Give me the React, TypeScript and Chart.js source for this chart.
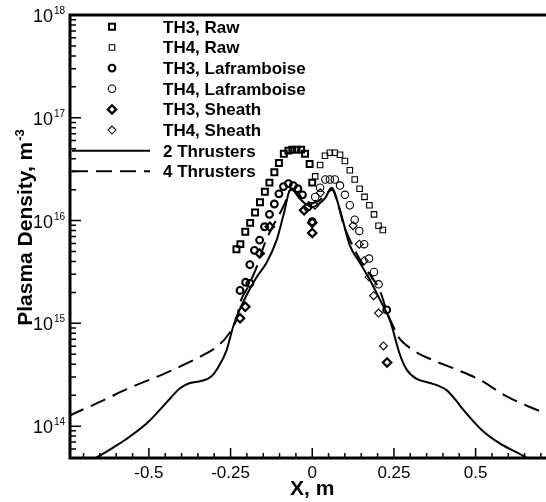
import React, { useEffect, useRef } from 'react';
import { Chart, registerables } from 'chart.js';

Chart.register(...registerables);

const FONT = '"Liberation Sans", Arial, Helvetica, sans-serif';

// ---- axis settings / labels ----
const xTickValues = [-0.5, -0.25, 0, 0.25, 0.5];
const xTickLabels = ['-0.5', '-0.25', '0', '0.25', '0.5'];
const yTickExponents = [14, 15, 16, 17, 18];
const xTitle = 'X, m';
const yTitleMain = 'Plasma Density, m';
const yTitleSup = '-3';

// ---- measured data ----
const th3RawX = [-0.232, -0.220, -0.205, -0.190, -0.175, -0.160, -0.145, -0.131, -0.116, -0.102, -0.087, -0.073, -0.061, -0.048, -0.034, -0.022, -0.008, 0.000];
const th3RawY = [5.25e15, 5.9e15, 7.8e15, 9.5e15, 1.2e16, 1.51e16, 1.91e16, 2.34e16, 2.95e16, 3.63e16, 4.47e16, 4.79e16, 4.9e16, 4.9e16, 4.9e16, 4.47e16, 3.55e16, 2.34e16];

const th4RawX = [0.009, 0.024, 0.039, 0.054, 0.069, 0.085, 0.100, 0.115, 0.130, 0.145, 0.160, 0.175, 0.189, 0.203, 0.216];
const th4RawY = [2.69e16, 3.47e16, 4.27e16, 4.57e16, 4.57e16, 4.37e16, 3.8e16, 3.09e16, 2.51e16, 2.04e16, 1.7e16, 1.41e16, 1.15e16, 8.9e15, 8.1e15];

const th3LafX = [-0.221, -0.204, -0.191, -0.191, -0.177, -0.161, -0.146, -0.131, -0.116, -0.102, -0.088, -0.073, -0.058, -0.044, -0.030, -0.014, 0.000, 0.228];
const th3LafY = [2.09e15, 2.51e15, 2.45e15, 3.72e15, 5.13e15, 6.46e15, 8.71e15, 1.15e16, 1.45e16, 1.82e16, 2.14e16, 2.29e16, 2.19e16, 2.04e16, 1.78e16, 1.35e16, 9.77e15, 1.35e15];

const th4LafX = [0.009, 0.024, 0.040, 0.054, 0.069, 0.085, 0.100, 0.115, 0.130, 0.144, 0.159, 0.174, 0.189, 0.203];
const th4LafY = [1.7e16, 2.09e16, 2.51e16, 2.51e16, 2.51e16, 2.19e16, 1.78e16, 1.41e16, 1.02e16, 7.94e15, 5.89e15, 4.27e15, 3.16e15, 2.4e15];

const th3SheathX = [-0.221, -0.205, -0.161, -0.130, -0.025, 0.000, 0.000, 0.229];
const th3SheathY = [1.12e15, 1.45e15, 4.79e15, 8.71e15, 1.26e16, 9.55e15, 7.59e15, 4.17e14];

const th4SheathX = [0.008, 0.025, 0.125, 0.144, 0.159, 0.174, 0.188, 0.203, 0.218];
const th4SheathY = [1.41e16, 1.86e16, 8.91e15, 5.89e15, 4.07e15, 2.82e15, 1.86e15, 1.26e15, 6.03e14];

const twoThrX = [-0.745, -0.652, -0.600, -0.558, -0.502, -0.466, -0.435, -0.405, -0.374, -0.340, -0.310, -0.290, -0.262, -0.242, -0.220, -0.200, -0.170, -0.140, -0.109, -0.089, -0.065, -0.040, -0.020, 0.000, 0.020, 0.040, 0.059, 0.085, 0.115, 0.146, 0.177, 0.207, 0.238, 0.268, 0.289, 0.320, 0.350, 0.381, 0.411, 0.440, 0.462, 0.523, 0.575, 0.646, 0.720];
const twoThrY = [3.31e13, 5.13e13, 6.46e13, 7.94e13, 1.1e14, 1.45e14, 1.86e14, 2.34e14, 2.63e14, 2.75e14, 3.02e14, 3.63e14, 5.5e14, 9.33e14, 1.41e15, 1.91e15, 2.82e15, 3.89e15, 6.46e15, 1.1e16, 2.04e16, 1.66e16, 1.45e16, 1.35e16, 1.45e16, 1.66e16, 2.09e16, 1.26e16, 5.75e15, 3.89e15, 2.63e15, 1.7e15, 1.07e15, 5.01e14, 3.55e14, 2.88e14, 2.69e14, 2.51e14, 2.24e14, 1.78e14, 1.45e14, 8.91e13, 6.76e13, 5.13e13, 3.55e13];

const fourThrX = [-0.745, -0.690, -0.640, -0.568, -0.476, -0.405, -0.323, -0.293, -0.262, -0.231, -0.221, -0.196, -0.170, -0.145, -0.120, -0.099, -0.084, -0.065, -0.040, -0.020, 0.000, 0.020, 0.040, 0.060, 0.080, 0.095, 0.120, 0.150, 0.180, 0.207, 0.230, 0.248, 0.263, 0.309, 0.370, 0.442, 0.513, 0.595, 0.715];
const fourThrY = [1.26e14, 1.51e14, 1.78e14, 2.29e14, 3.02e14, 3.8e14, 5.13e14, 5.89e14, 7.41e14, 1.12e15, 1.58e15, 2.29e15, 3.55e15, 6.03e15, 8.91e15, 1.17e16, 1.48e16, 2.0e16, 1.78e16, 1.55e16, 1.48e16, 1.55e16, 1.78e16, 2.0e16, 1.41e16, 9.33e15, 6.03e15, 3.98e15, 2.88e15, 2.09e15, 1.26e15, 9.33e14, 7.41e14, 5.5e14, 4.37e14, 3.55e14, 2.82e14, 1.95e14, 1.32e14];

const seriesLabels = ['TH3, Raw', 'TH4, Raw', 'TH3, Laframboise', 'TH4, Laframboise', 'TH3, Sheath', 'TH4, Sheath', '2 Thrusters', '4 Thrusters'];

function pts(xs: number[], ys: number[]) {
  return xs.map((x, i) => ({ x, y: ys[i] }));
}

function markerSet(label: string, xs: number[], ys: number[], style: string, r: number, bw: number) {
  return {
    label,
    data: pts(xs, ys),
    showLine: false,
    pointStyle: style,
    pointRadius: r,
    pointBorderWidth: bw,
    pointBorderColor: '#000',
    pointBackgroundColor: 'rgba(0,0,0,0)',
    borderColor: '#000',
    backgroundColor: 'rgba(0,0,0,0)',
  };
}

function lineSet(label: string, xs: number[], ys: number[], dash: number[]) {
  return {
    label,
    data: pts(xs, ys),
    showLine: true,
    pointRadius: 0,
    borderColor: '#000',
    borderWidth: 2,
    borderDash: dash,
    cubicInterpolationMode: 'monotone',
    backgroundColor: 'rgba(0,0,0,0)',
    fill: false,
  };
}

function drawMarker(ctx: CanvasRenderingContext2D, style: string, x: number, y: number, r: number, lw: number) {
  ctx.lineWidth = lw;
  ctx.beginPath();
  if (style === 'rect') {
    const s = r * Math.SQRT1_2;
    ctx.rect(x - s, y - s, 2 * s, 2 * s);
  } else if (style === 'circle') {
    ctx.arc(x, y, r, 0, Math.PI * 2);
  } else {
    ctx.moveTo(x, y - r);
    ctx.lineTo(x + r, y);
    ctx.lineTo(x, y + r);
    ctx.lineTo(x - r, y);
    ctx.closePath();
  }
  ctx.stroke();
}

const decorPlugin = {
  id: 'tecplotDecor',
  afterDraw(chart: any) {
    const ctx: CanvasRenderingContext2D = chart.ctx;
    const { left, top, right, bottom } = chart.chartArea;
    const xs = chart.scales.x;
    const ys = chart.scales.y;
    ctx.save();
    ctx.strokeStyle = '#000';
    ctx.fillStyle = '#000';
    ctx.setLineDash([]);

    // x ticks (inward)
    ctx.lineWidth = 1.5;
    ctx.beginPath();
    for (let k = -16; k <= 16; k++) {
      const px = xs.getPixelForValue(k / 20);
      if (px < left + 2 || px > right) continue;
      const len = k % 5 === 0 ? 10 : 5;
      ctx.moveTo(px, bottom);
      ctx.lineTo(px, bottom - len);
    }
    // y ticks (inward)
    for (let e = 13; e <= 18; e++) {
      for (let m = 1; m <= 9; m++) {
        const v = m * Math.pow(10, e);
        const py = ys.getPixelForValue(v);
        if (py < top - 0.5 || py > bottom - 1) continue;
        const len = m === 1 ? 11 : 6;
        ctx.moveTo(left, py);
        ctx.lineTo(left + len, py);
      }
    }
    ctx.stroke();

    // axis lines
    ctx.lineWidth = 3;
    ctx.beginPath();
    ctx.moveTo(left, top - 1.5);
    ctx.lineTo(left, bottom + 1.5);
    ctx.moveTo(left - 1.5, bottom);
    ctx.lineTo(right, bottom);
    ctx.moveTo(left - 1.5, top);
    ctx.lineTo(right, top);
    ctx.stroke();

    // y tick labels 10^n
    ctx.textBaseline = 'alphabetic';
    for (const e of yTickExponents) {
      const py = ys.getPixelForValue(Math.pow(10, e));
      ctx.font = `18px ${FONT}`;
      ctx.textAlign = 'right';
      ctx.fillText('10', 53, py + 7);
      ctx.font = `10px ${FONT}`;
      ctx.textAlign = 'left';
      ctx.fillText(String(e), 54, py - 1);
    }

    // x title
    ctx.font = `bold 21px ${FONT}`;
    ctx.textAlign = 'center';
    ctx.fillText(xTitle, xs.getPixelForValue(0), 495);

    // y title (rotated)
    ctx.save();
    ctx.translate(32, 228);
    ctx.rotate(-Math.PI / 2);
    ctx.font = `bold 21px ${FONT}`;
    const w1 = ctx.measureText(yTitleMain).width;
    ctx.font = `bold 13px ${FONT}`;
    const w2 = ctx.measureText(yTitleSup).width;
    const start = -(w1 + w2) / 2;
    ctx.textAlign = 'left';
    ctx.font = `bold 21px ${FONT}`;
    ctx.fillText(yTitleMain, start, 0);
    ctx.font = `bold 13px ${FONT}`;
    ctx.fillText(yTitleSup, start + w1 + 1, -8);
    ctx.restore();

    // legend
    const rowY0 = 26.8;
    const rowStep = 20.65;
    const markerX = 112;
    const textX = 163;
    chart.data.datasets.forEach((ds: any, i: number) => {
      const ry = rowY0 + i * rowStep;
      ctx.strokeStyle = '#000';
      if (ds.showLine) {
        ctx.lineWidth = 2;
        ctx.setLineDash(ds.borderDash || []);
        ctx.beginPath();
        ctx.moveTo(72, ry);
        ctx.lineTo(150, ry);
        ctx.stroke();
        ctx.setLineDash([]);
      } else {
        drawMarker(ctx, ds.pointStyle, markerX, ry, ds.pointRadius, ds.pointBorderWidth);
      }
      ctx.font = `bold 17px ${FONT}`;
      ctx.textAlign = 'left';
      ctx.textBaseline = 'alphabetic';
      ctx.fillText(ds.label, textX, ry + 6);
    });

    ctx.restore();
  },
};

export default function App() {
  const canvasRef = useRef<HTMLCanvasElement | null>(null);

  useEffect(() => {
    if (!canvasRef.current) return;
    const chart = new Chart(canvasRef.current, {
      type: 'scatter',
      data: {
        datasets: [
          markerSet(seriesLabels[0], th3RawX, th3RawY, 'rect', 4.2, 2),
          markerSet(seriesLabels[1], th4RawX, th4RawY, 'rect', 3.9, 1.1),
          markerSet(seriesLabels[2], th3LafX, th3LafY, 'circle', 3.4, 2.1),
          markerSet(seriesLabels[3], th4LafX, th4LafY, 'circle', 3.7, 1.1),
          markerSet(seriesLabels[4], th3SheathX, th3SheathY, 'rectRot', 4.2, 2.2),
          markerSet(seriesLabels[5], th4SheathX, th4SheathY, 'rectRot', 4, 1.1),
          lineSet(seriesLabels[6], twoThrX, twoThrY, []),
          lineSet(seriesLabels[7], fourThrX, fourThrY, [16, 8]),
        ] as any,
      },
      options: {
        animation: false,
        responsive: true,
        maintainAspectRatio: false,
        events: [],
        layout: { autoPadding: false, padding: { top: 15, left: 0, right: 0, bottom: 0 } },
        plugins: {
          legend: { display: false },
          tooltip: { enabled: false },
          title: { display: false },
        },
        scales: {
          x: {
            type: 'linear',
            min: -0.7415,
            max: 0.7155,
            grid: { display: false, drawTicks: false },
            border: { display: false },
            afterBuildTicks: (axis: any) => {
              axis.ticks = xTickValues.map((v) => ({ value: v }));
            },
            afterFit: (s: any) => {
              s.height = 44;
              s.paddingLeft = 0;
              s.paddingRight = 0;
            },
            ticks: {
              color: '#000',
              padding: 5,
              maxRotation: 0,
              autoSkip: false,
              font: { family: FONT, size: 17 },
              callback: (_v: any, i: number) => xTickLabels[i],
            },
          },
          y: {
            type: 'logarithmic',
            min: 4.9e13,
            max: 1e18,
            grid: { display: false, drawTicks: false },
            border: { display: false },
            ticks: { display: false },
            afterFit: (s: any) => {
              s.width = 70;
              s.paddingTop = 0;
              s.paddingBottom = 0;
            },
          },
        },
      },
      plugins: [decorPlugin],
    } as any);
    return () => chart.destroy();
  }, []);

  return (
    <div style={{ position: 'absolute', left: 0, top: 0, width: 546, height: 502, background: '#fff' }}>
      <canvas ref={canvasRef} />
    </div>
  );
}
